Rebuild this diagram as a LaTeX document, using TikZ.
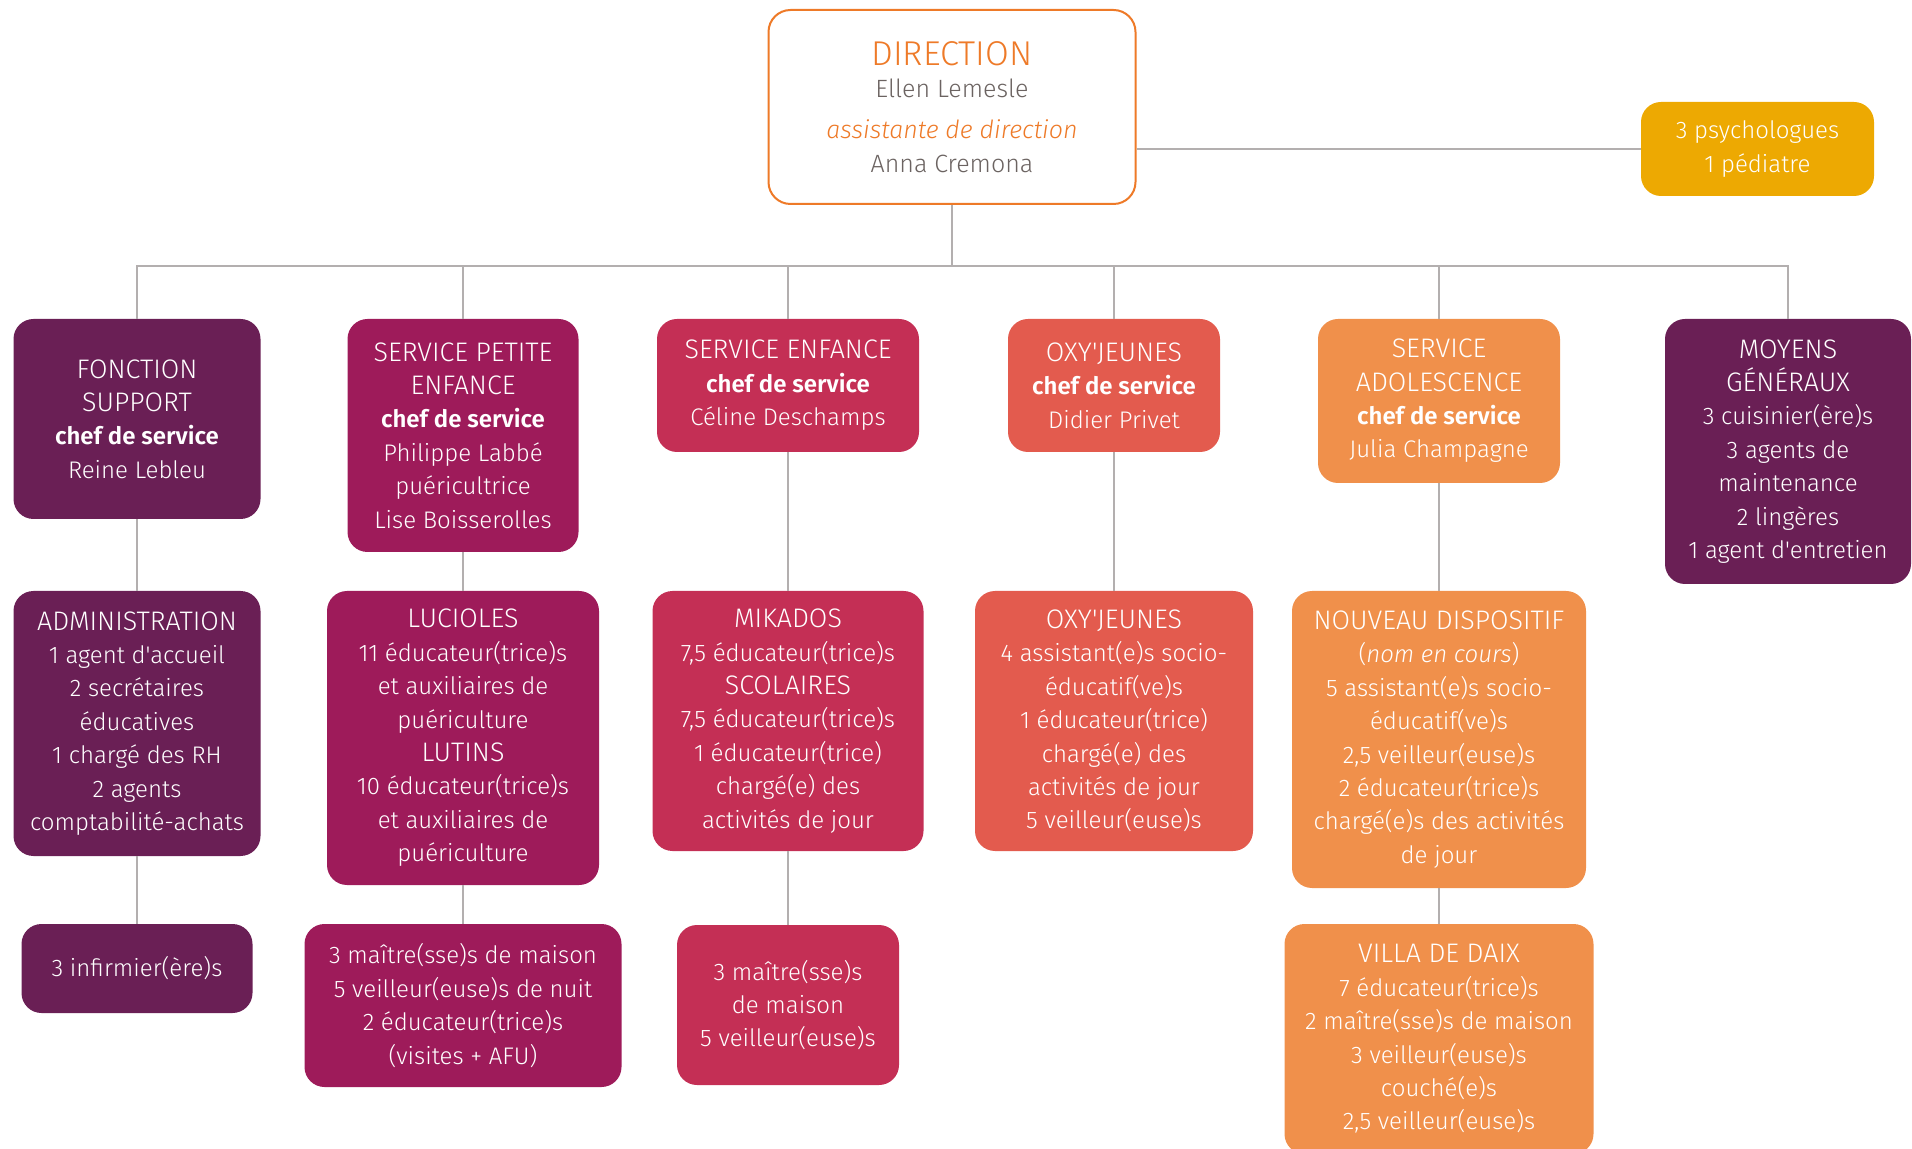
\documentclass[tikz,border=0pt]{standalone}
\usepackage{fontspec}
\setmainfont{Fira Sans}[UprightFont=* Light, BoldFont=* SemiBold, ItalicFont=* Light Italic, Ligatures=TeXOff]
\definecolor{cpurple}{HTML}{6A1F55}
\definecolor{cmagenta}{HTML}{9E1B5A}
\definecolor{ccrimson}{HTML}{C42F55}
\definecolor{ccoral}{HTML}{E35B4E}
\definecolor{corange}{HTML}{F0904B}
\definecolor{cgold}{HTML}{EDA902}
\definecolor{dirorange}{HTML}{EE7A28}
\definecolor{dirgray}{HTML}{6B6361}
\definecolor{linegray}{HTML}{B3AFAF}
\newcommand{\hd}[1]{{\fontsize{13.4}{16.7}\selectfont #1}}
\begin{document}
\begin{tikzpicture}[x=0.5pt,y=-0.5pt,
  box/.style={rounded corners=10pt, inner sep=0pt, align=center, text=white,
    font=\fontsize{12}{16.7}\selectfont},
  conn/.style={draw=linegray, line width=1pt}]
\useasboundingbox (0,0) rectangle (1912,1149);

% direction
\node[draw=dirorange, line width=1pt, fill=white, rounded corners=11pt, inner sep=0pt,
  align=center, text=dirgray, font=\fontsize{12.5}{17}\selectfont,
  minimum width=183.5pt, minimum height=97pt] (D) at (952,107)
  {{\fontsize{17.2}{17}\selectfont\color{dirorange}DIRECTION}\\[-1pt]
   Ellen Lemesle\\[3.5pt]
   {\color{dirorange}\itshape assistante de direction}\\
   Anna Cremona};

\node[box, fill=cgold, minimum width=116.5pt, minimum height=47pt] (P) at (1757.5,149)
  {3 psychologues\\1 pédiatre};

% level 1
\node[box, fill=cpurple, minimum width=123.5pt, minimum height=100pt] (F1) at (137,419)
  {\hd{FONCTION}\\\hd{SUPPORT}\\\textbf{chef de service}\\Reine Lebleu};
\node[box, fill=cmagenta, minimum width=115.5pt, minimum height=116.5pt] (F2) at (463,435.5)
  {\hd{SERVICE PETITE}\\\hd{ENFANCE}\\\textbf{chef de service}\\Philippe Labbé\\puéricultrice\\Lise Boisserolles};
\node[box, fill=ccrimson, minimum width=131pt, minimum height=66.5pt] (F3) at (788,385.5)
  {\hd{SERVICE ENFANCE}\\\textbf{chef de service}\\Céline Deschamps};
\node[box, fill=ccoral, minimum width=106pt, minimum height=66.5pt] (F4) at (1114,385.5)
  {\hd{OXY'JEUNES}\\\textbf{chef de service}\\Didier Privet};
\node[box, fill=corange, minimum width=121pt, minimum height=82pt] (F5) at (1439,401)
  {\hd{SERVICE}\\\hd{ADOLESCENCE}\\\textbf{chef de service}\\Julia Champagne};
\node[box, fill=cpurple, minimum width=123pt, minimum height=132.5pt] (F6) at (1788,451.5)
  {\hd{MOYENS}\\\hd{GÉNÉRAUX}\\3 cuisinier(ère)s\\3 agents de\\maintenance\\2 lingères\\1 agent d'entretien};

% level 2
\node[box, fill=cpurple, minimum width=123.5pt, minimum height=132.5pt] (A) at (137,723.5)
  {\hd{ADMINISTRATION}\\1 agent d'accueil\\2 secrétaires\\éducatives\\1 chargé des RH\\2 agents\\comptabilité-achats};
\node[box, fill=cmagenta, minimum width=136pt, minimum height=147pt] (L) at (463,738)
  {\hd{LUCIOLES}\\11 éducateur(trice)s\\et auxiliaires de\\puériculture\\\hd{LUTINS}\\10 éducateur(trice)s\\et auxiliaires de\\puériculture};
\node[box, fill=ccrimson, minimum width=135.5pt, minimum height=130pt] (M) at (788,721)
  {\hd{MIKADOS}\\7,5 éducateur(trice)s\\\hd{SCOLAIRES}\\7,5 éducateur(trice)s\\1 éducateur(trice)\\chargé(e) des\\activités de jour};
\node[box, fill=ccoral, minimum width=139pt, minimum height=130pt] (O) at (1114,721)
  {\hd{OXY'JEUNES}\\4 assistant(e)s socio-\\éducatif(ve)s\\1 éducateur(trice)\\chargé(e) des\\activités de jour\\5 veilleur(euse)s};
\node[box, fill=corange, minimum width=147pt, minimum height=148.5pt] (N) at (1439,739.5)
  {\hd{NOUVEAU DISPOSITIF}\\(\textit{nom en cours})\\5 assistant(e)s socio-\\éducatif(ve)s\\2,5 veilleur(euse)s\\2 éducateur(trice)s\\chargé(e)s des activités\\de jour};

% level 3
\node[box, fill=cpurple, minimum width=115.5pt, minimum height=44.5pt] (I) at (137,968.5)
  {3 infirmier(ère)s};
\node[box, fill=cmagenta, minimum width=158.5pt, minimum height=81.5pt] (MM) at (463,1005.5)
  {3 maître(sse)s de maison\\5 veilleur(euse)s de nuit\\2 éducateur(trice)s\\(visites + AFU)};
\node[box, fill=ccrimson, minimum width=111pt, minimum height=80pt] (MS) at (788,1005)
  {3 maître(sse)s\\de maison\\5 veilleur(euse)s};
\node[box, fill=corange, minimum width=154.5pt, minimum height=115pt] (V) at (1439,1039)
  {\hd{VILLA DE DAIX}\\7 éducateur(trice)s\\2 maître(sse)s de maison\\3 veilleur(euse)s\\couché(e)s\\2,5 veilleur(euse)s};

% connectors
\coordinate (bus) at (952,266);
\draw[conn] (D.south) -- (bus);
\foreach \n in {F1,F2,F3,F4,F5,F6} \draw[conn] (\n.north) |- (bus);
\draw[conn] (D.east |- P.west) -- (P.west);
\draw[conn] (F1.south) -- (A.north);
\draw[conn] (F2.south) -- (L.north);
\draw[conn] (F3.south) -- (M.north);
\draw[conn] (F4.south) -- (O.north);
\draw[conn] (F5.south) -- (N.north);
\draw[conn] (A.south) -- (I.north);
\draw[conn] (L.south) -- (MM.north);
\draw[conn] (M.south) -- (MS.north);
\draw[conn] (N.south) -- (V.north);
\end{tikzpicture}
\end{document}
